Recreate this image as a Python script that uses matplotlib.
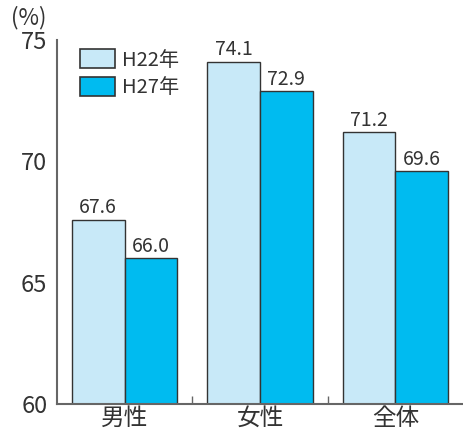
'''
Bar chart: rate by gender, H22 vs H27
'''
import numpy
import matplotlib
matplotlib.use('Agg')
import matplotlib.pyplot as plt
from matplotlib.ticker import FixedLocator

plt.rcParams['font.family'] = ['Noto Sans CJK JP', 'DejaVu Sans']

categories = ['男性', '女性', '全体']
series     = ['H22年', 'H27年']
val_h22    = [67.6, 74.1, 71.2]
val_h27    = [66.0, 72.9, 69.6]
y_ticks    = [60, 65, 70, 75]

colors     = ['#c8e9f8', '#00bbf0']
edge_col   = '#333333'
axis_col   = '#666666'
text_col   = '#333333'
# ------------------------------------
def _add_labels(ax, bars, values) -> None:
    for bar, val in zip(bars, values):
        ax.annotate(f'{val:.1f}', xy=(bar.get_x() + bar.get_width() / 2, bar.get_height() + 60),
                    xytext=(0, 1.0), textcoords='offset points', ha='center', va='bottom',
                    fontsize=14, color=text_col, annotation_clip=False)
# ------------------------------------
def main():
    fig = plt.figure(figsize=(4.63, 4.37), dpi=100)
    ax  = fig.add_axes([57/463, 1 - 404/437, 1 - 57/463, 364/437])

    xpos  = numpy.arange(len(categories))
    width = 0.39
    l_val = [val_h22, val_h27]
    for i, (name, vals) in enumerate(zip(series, l_val)):
        offset = (i - 0.5) * width
        bars = ax.bar(xpos + offset, numpy.array(vals) - 60, width, bottom=60,
                      color=colors[i], edgecolor=edge_col, linewidth=1.0, label=name)
        _add_labels(ax, bars, vals)

    ax.set_xlim(-0.5, 2.5)
    ax.set_ylim(60, 75)
    ax.set_yticks(y_ticks)
    ax.set_xticks(xpos)
    ax.set_xticklabels(categories)

    ax.xaxis.set_minor_locator(FixedLocator([0.5, 1.5]))
    ax.yaxis.set_minor_locator(FixedLocator([75]))
    ax.tick_params(axis='both', which='major', length=0, labelsize=17, colors=text_col)
    ax.tick_params(axis='x', which='major', pad=2)
    ax.tick_params(axis='y', which='major', pad=7)
    ax.tick_params(which='minor', direction='in', length=6, width=1.0, color=axis_col)

    for side in ['top', 'right']:
        ax.spines[side].set_visible(False)
    for side in ['left', 'bottom']:
        ax.spines[side].set_color(axis_col)
        ax.spines[side].set_linewidth(1.5)

    leg = ax.legend(loc='upper left', bbox_to_anchor=(80/463, 1 - 49/437),
                    bbox_transform=fig.transFigure, frameon=False, fontsize=14.5,
                    handlelength=1.75, handleheight=1.1, labelspacing=0.3,
                    handletextpad=0.35, borderpad=0, borderaxespad=0)
    for txt in leg.get_texts():
        txt.set_color(text_col)
    for patch in leg.get_patches():
        patch.set_linewidth(1.2)

    fig.text(29/463, 1 - 18/437, '(%)', ha='center', va='center', fontsize=16, color=text_col)

    fig.savefig('out.png', dpi=100)
    plt.close(fig)
# ------------------------------------
if __name__ == '__main__':
    main()
